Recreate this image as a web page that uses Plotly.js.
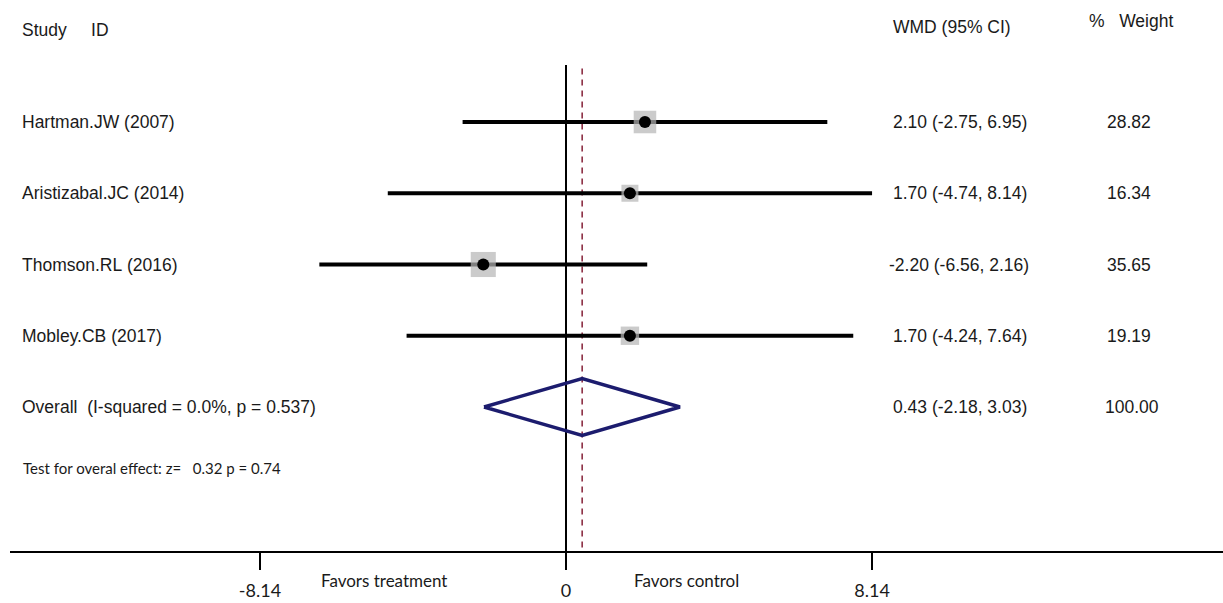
<!DOCTYPE html>
<html>
<head>
<meta charset="utf-8">
<script src="https://cdn.plot.ly/plotly-3.0.1.min.js"></script>
<style>
  html, body { margin: 0; padding: 0; background: #ffffff; }
  #chart { width: 1223px; height: 603px; }
</style>
</head>
<body>
<div id="chart"></div>
<script>
// ---- data ----
const studies = ["Hartman.JW (2007)", "Aristizabal.JC (2014)", "Thomson.RL (2016)", "Mobley.CB (2017)"];
const estimates = [2.10, 1.70, -2.20, 1.70];
const lowerCI = [-2.75, -4.74, -6.56, -4.24];
const upperCI = [6.95, 8.14, 2.16, 7.64];
const weights = [28.82, 16.34, 35.65, 19.19];
const overallLabel = "Overall  (I-squared = 0.0%, p = 0.537)";
const overallEst = 0.43;
const overallLower = -2.18;
const overallUpper = 3.03;
const overallWeight = 100.00;
const testLabel = "Test for overal effect: z=   0.32 p = 0.74";
const tickValues = [-8.14, 0, 8.14];
const tickLabels = ["-8.14", "0", "8.14"];
const headerStudy = "Study     ID";
const headerWMD = "WMD (95% CI)";
const headerWeight = "%   Weight";
const favorsLeft = "Favors treatment";
const favorsRight = "Favors control";

// ---- layout helpers (pixel -> paper) ----
const W = 1223, H = 603;
const mL = 10, mR = 0, mT = 0, mB = 52;
const plotW = W - mL - mR, plotH = H - mT - mB;
const px = v => (v - mL) / plotW;
const py = v => (plotH + mT - v) / plotH;
const nb = s => s.replace(/ /g, "\u00a0");

const pxPerUnit = 37.6;
const zeroPx = 566;
const xr0 = -(zeroPx - mL) / pxPerUnit;
const xr1 = xr0 + plotW / pxPerUnit;

const rowTopPx = 122, rowStep = 71.25;
const yTop = 1 - rowTopPx / rowStep;
const yBot = 1 + (plotH - rowTopPx) / rowStep;

const rows = studies.map((_, i) => i + 1);
const overallRow = studies.length + 1;

// CI lines
const ciX = [], ciY = [];
rows.forEach((r, i) => { ciX.push(lowerCI[i], upperCI[i], null); ciY.push(r, r, null); });

const traces = [];
// zero line
traces.push({ x: [0, 0], y: [0.2, yBot], mode: "lines", line: { color: "#000", width: 2 }, hoverinfo: "skip" });
// overall dashed line
traces.push({ x: [overallEst, overallEst], y: [0.25, yBot], mode: "lines", line: { color: "#8c2f44", width: 1.6, dash: "6px,5px" }, hoverinfo: "skip" });
// CI lines
traces.push({ x: ciX, y: ciY, mode: "lines", line: { color: "#000", width: 4 }, hoverinfo: "skip" });
// weight squares
traces.push({ x: estimates, y: rows, mode: "markers", marker: { symbol: "square", color: "#b5b5b5", size: weights.map(w => 4.2 * Math.sqrt(w)), line: { width: 0 } }, hoverinfo: "skip" });
// point estimates
traces.push({ x: estimates, y: rows, mode: "markers", marker: { symbol: "circle", color: "#000", size: 12 }, hoverinfo: "skip" });
// overall diamond
const dh = 0.4;
traces.push({
  x: [overallLower, overallEst, overallUpper, overallEst, overallLower],
  y: [overallRow, overallRow - dh, overallRow, overallRow + dh, overallRow],
  mode: "lines", line: { color: "#1c1c6e", width: 3.5 }, hoverinfo: "skip"
});

const fmt = v => v.toFixed(2);
const mainFont = { family: "Liberation Sans, Arial, sans-serif", size: 17.5, color: "#1a1a1a" };
const uiFont = { family: "Lato, Open Sans, sans-serif", size: 17, color: "#1a1a1a" };
const testFont = { family: "Lato, Open Sans, sans-serif", size: 15, color: "#1a1a1a" };

const annotations = [];
const addText = (text, x, y, yref, font, xanchor) => annotations.push({
  text: nb(text), x: x, y: y, xref: "paper", yref: yref, showarrow: false,
  xanchor: xanchor || "left", yanchor: "middle", font: font
});

addText(headerStudy, px(20), py(30), "paper", mainFont);
addText(headerWMD, px(891), py(27), "paper", mainFont);
addText(headerWeight, px(1087), py(21), "paper", mainFont);

rows.forEach((r, i) => {
  addText(studies[i], px(20), r, "y", mainFont);
  addText(fmt(estimates[i]) + " (" + fmt(lowerCI[i]) + ", " + fmt(upperCI[i]) + ")", estimates[i] < 0 ? px(887) : px(891), r, "y", mainFont);
  addText(fmt(weights[i]), px(1105), r, "y", mainFont);
});
addText(overallLabel, px(20), overallRow, "y", mainFont);
addText(fmt(overallEst) + " (" + fmt(overallLower) + ", " + fmt(overallUpper) + ")", px(891), overallRow, "y", mainFont);
addText(fmt(overallWeight), px(1103), overallRow, "y", mainFont);
addText(testLabel, px(21), py(468), "paper", testFont);
addText(favorsLeft, px(384), py(580), "paper", uiFont, "center");
addText(favorsRight, px(686), py(580), "paper", uiFont, "center");

const layout = {
  width: W, height: H,
  margin: { l: mL, r: mR, t: mT, b: mB, pad: 0 },
  paper_bgcolor: "#ffffff", plot_bgcolor: "#ffffff",
  showlegend: false,
  xaxis: {
    range: [xr0, xr1], showgrid: false, zeroline: false,
    showline: true, linecolor: "#000", linewidth: 2,
    tickvals: tickValues, ticktext: tickLabels,
    ticks: "outside", ticklen: 17, tickwidth: 2, tickcolor: "#000",
    ticklabelstandoff: 5,
    tickfont: { family: "Lato, Open Sans, sans-serif", size: 18, color: "#1a1a1a" },
    fixedrange: true
  },
  yaxis: {
    range: [yBot, yTop], showgrid: false, zeroline: false, showline: false,
    showticklabels: false, ticks: "", fixedrange: true
  },
  annotations: annotations
};

Plotly.newPlot("chart", traces, layout, { displayModeBar: false, staticPlot: true });
</script>
</body>
</html>
